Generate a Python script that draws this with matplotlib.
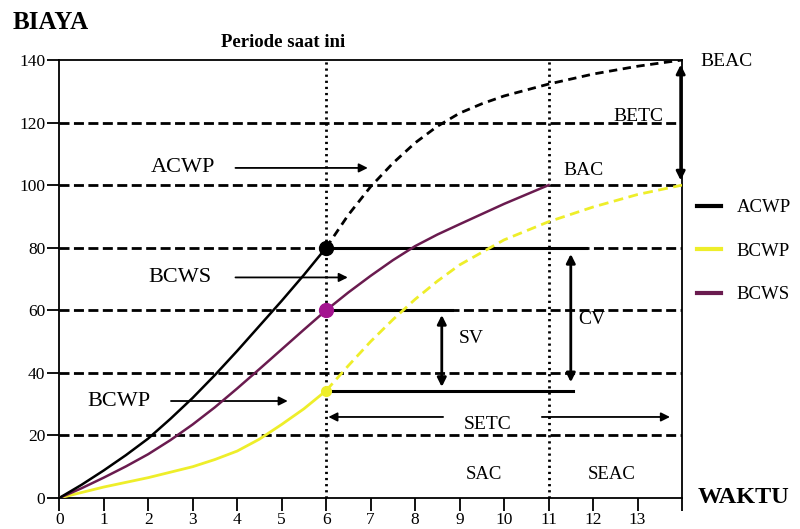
import matplotlib
matplotlib.use("Agg")
import matplotlib.pyplot as plt
from matplotlib.lines import Line2D

plt.rcParams["font.family"] = ["Liberation Serif", "DejaVu Serif"]

# ACWP: solid up to now (period 6), dashed forecast after
acwp_x = [0, 0.5, 1, 1.5, 2, 2.5, 3, 3.5, 4, 4.5, 5, 5.5, 6]
acwp_y = [0, 4.2, 8.8, 13.7, 19, 25.3, 32, 39.3, 47, 55, 63, 71.3, 80]
acwp_fx = [6, 6.5, 7, 7.5, 8, 8.5, 9, 9.5, 10, 11, 12, 13, 14]
acwp_fy = [80, 90.5, 99.5, 107, 113.5, 118.8, 123, 126, 128.5, 132.3, 135.5, 138, 140]

# BCWS: planned
bcws_x = [0, 0.5, 1, 1.5, 2, 2.5, 3, 3.5, 4, 4.5, 5, 5.5, 6, 6.5, 7, 7.5, 8, 8.5, 9, 10, 11]
bcws_y = [0, 3.1, 6.5, 10.1, 14, 18.5, 23.5, 29, 35, 41.2, 47.5, 53.8, 60, 65.7, 71, 76, 80.5, 84.2, 87.5, 94, 100]

# BCWP: earned, solid then dashed
bcwp_x = [0, 1, 2, 3, 3.5, 4, 4.5, 5, 5.5, 6]
bcwp_y = [0, 3.5, 6.5, 10, 12.3, 15, 18.8, 23.5, 28.5, 34.3]
bcwp_fx = [6, 6.5, 7, 7.5, 8, 8.5, 9, 10, 11, 12, 13, 14]
bcwp_fy = [34.3, 42.3, 50, 57, 63.5, 69.3, 74.5, 82.5, 88.3, 93, 97, 100]

grid_levels = [20, 40, 60, 80, 100, 120]
x_ticks = list(range(15))
x_labels = [str(i) for i in range(14)] + [""]
y_ticks = [0, 20, 40, 60, 80, 100, 120, 140]

now = 6
finish_plan = 11

c_yellow = "#eeee2a"
c_purple = "#6a1b4f"
c_magenta = "#a3148f"

fig = plt.figure(figsize=(8, 5.29), dpi=100)
ax = fig.add_axes([0.074, 0.0586, 0.7785, 0.828])
ax.set_xlim(0, 14)
ax.set_ylim(0, 140)

for s in ax.spines.values():
    s.set_linewidth(1.3)
    s.set_color("black")

# dashed reference levels
for lv in grid_levels:
    ax.plot([0, 14], [lv, lv], color="black", lw=2, ls=(0, (3.6, 1.6)), zorder=1)

# period lines
ax.plot([now, now], [0, 140], color="black", lw=2, ls=(0, (0.8, 1.4)), zorder=2)
ax.plot([finish_plan, finish_plan], [0, 140], color="black", lw=2, ls=(0, (0.8, 1.4)), zorder=2)

# solid level segments from the current period
ax.plot([now, 11.84], [acwp_y[-1], acwp_y[-1]], color="black", lw=2.2, zorder=3)
ax.plot([now, 8.83], [60, 60], color="black", lw=2.2, zorder=3)
ax.plot([now, 11.55], [bcwp_y[-1], bcwp_y[-1]], color="black", lw=2.2, zorder=3)

# curves
ax.plot(bcwp_x, bcwp_y, color=c_yellow, lw=2, zorder=4)
ax.plot(bcwp_fx, bcwp_fy, color=c_yellow, lw=2, ls=(0, (3.5, 2)), zorder=4)
ax.plot(bcws_x, bcws_y, color=c_purple, lw=1.8, zorder=4)
ax.plot(acwp_x, acwp_y, color="black", lw=1.8, zorder=5)
ax.plot(acwp_fx, acwp_fy, color="black", lw=2, ls=(0, (3, 2)), zorder=5)

ax.plot([now], [acwp_y[-1]], "o", color="black", ms=10, zorder=6)
ax.plot([now], [60], "o", color=c_magenta, ms=10, zorder=6)
ax.plot([now], [bcwp_y[-1]], "o", color=c_yellow, ms=7, zorder=6)

# ticks
ax.set_xticks(x_ticks)
ax.set_xticklabels(x_labels, fontsize=12.5)
ax.set_yticks(y_ticks)
ax.set_yticklabels([str(v) for v in y_ticks], fontsize=12.5)
ax.tick_params(axis="x", direction="out", length=9, width=1.3, pad=1)
ax.tick_params(axis="y", direction="out", length=9, width=1.3, pad=1)

# pointer arrows
ptr = dict(arrowstyle="-|>", color="black", lw=1.3, mutation_scale=13)
ax.annotate("", xy=(7.0, 105.5), xytext=(3.9, 105.5), arrowprops=ptr)
ax.annotate("", xy=(6.55, 70.5), xytext=(3.9, 70.5), arrowprops=ptr)
ax.annotate("", xy=(5.2, 31), xytext=(2.45, 31), arrowprops=ptr)
ax.text(2.79, 105.5, "ACWP", fontsize=16, ha="center", va="center")
ax.text(2.72, 70.5, "BCWS", fontsize=16, ha="center", va="center")
ax.text(1.34, 31, "BCWP", fontsize=16, ha="center", va="center")

# variance arrows
dbl = dict(arrowstyle="<|-|>", color="black", lw=2, mutation_scale=13, shrinkA=0, shrinkB=0)
ax.annotate("", xy=(8.6, 58.5), xytext=(8.6, 35.5), arrowprops=dbl)
ax.annotate("", xy=(11.5, 78), xytext=(11.5, 37), arrowprops=dbl)
ax.annotate("", xy=(13.97, 138.5), xytext=(13.97, 101.5), arrowprops=dbl, annotation_clip=False)
ax.text(9.26, 51, "SV", fontsize=14, ha="center", va="center")
ax.text(11.97, 57, "CV", fontsize=14, ha="center", va="center")

# SETC span
thin = dict(arrowstyle="-|>", color="black", lw=1.3, mutation_scale=13, shrinkA=0, shrinkB=0)
ax.annotate("", xy=(6.05, 25.9), xytext=(8.63, 25.9), arrowprops=thin)
ax.annotate("", xy=(13.73, 25.9), xytext=(10.85, 25.9), arrowprops=thin)
ax.text(9.64, 23.5, "SETC", fontsize=14, ha="center", va="center")

ax.text(9.55, 7.4, "SAC", fontsize=13.5, ha="center", va="center")
ax.text(12.43, 7.4, "SEAC", fontsize=13.5, ha="center", va="center")
ax.text(11.78, 104.8, "BAC", fontsize=14, ha="center", va="center")
ax.text(13.03, 121.8, "BETC", fontsize=14, ha="center", va="center")
ax.text(15.0, 139.4, "BEAC", fontsize=14, ha="center", va="center", clip_on=False)

ax.text(5.03, 145.5, "Periode saat ini", fontsize=13.5, fontweight="bold",
        ha="center", va="center", clip_on=False)
fig.text(0.016, 0.957, "BIAYA", fontsize=18, fontweight="bold", ha="left", va="center")
fig.text(0.872, 0.06, "WAKTU", fontsize=17.5, fontweight="bold", ha="left", va="center")

handles = [
    Line2D([], [], color="black", lw=3),
    Line2D([], [], color=c_yellow, lw=3),
    Line2D([], [], color=c_purple, lw=3),
]
ax.legend(handles, ["ACWP", "BCWP", "BCWS"], loc="upper left", bbox_to_anchor=(1.024, 0.682),
          frameon=False, fontsize=13.5, handlelength=1.3, handletextpad=0.8,
          labelspacing=1.4, borderpad=0, borderaxespad=0)

plt.savefig("out.png", dpi=100)
